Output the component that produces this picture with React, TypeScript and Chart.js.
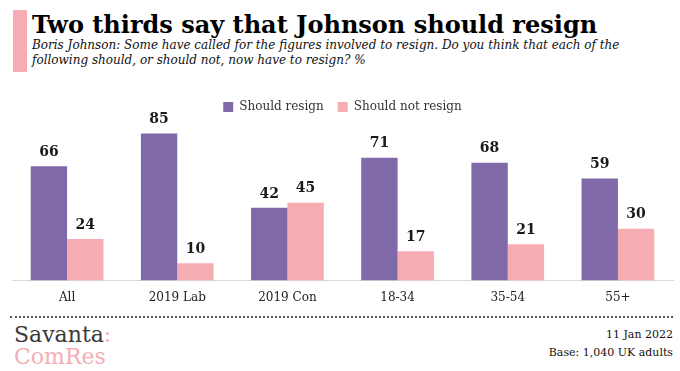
import React, { useEffect, useRef } from "react";
import { Chart, registerables } from "chart.js";

Chart.register(...registerables);

const categories = ["All", "2019 Lab", "2019 Con", "18-34", "35-54", "55+"];
const shouldResign = [66, 85, 42, 71, 68, 59];
const shouldNotResign = [24, 10, 45, 17, 21, 30];
const seriesNames = ["Should resign", "Should not resign"];

const PURPLE = "#7f69a8";
const PINK = "#f5adb3";
const SERIF = "'DejaVu Serif', serif";

const valueLabels = {
  id: "valueLabels",
  afterDatasetsDraw(chart: any) {
    const ctx = chart.ctx;
    ctx.save();
    ctx.font = "bold 14px 'DejaVu Serif', serif";
    ctx.fillStyle = "#1a1a1a";
    ctx.textAlign = "center";
    ctx.textBaseline = "bottom";
    chart.data.datasets.forEach((ds: any, i: number) => {
      const meta = chart.getDatasetMeta(i);
      meta.data.forEach((bar: any, j: number) => {
        ctx.fillText(String(ds.data[j]), bar.x, bar.y - 7);
      });
    });
    ctx.restore();
  },
};

export default function App() {
  const ref = useRef<HTMLCanvasElement>(null);
  useEffect(() => {
    document.body.style.margin = "0";
    const chart = new Chart(ref.current!, {
      type: "bar",
      data: {
        labels: categories,
        datasets: [
          { label: seriesNames[0], data: shouldResign, backgroundColor: PURPLE, borderWidth: 0 },
          { label: seriesNames[1], data: shouldNotResign, backgroundColor: PINK, borderWidth: 0 },
        ],
      },
      options: {
        animation: false,
        responsive: false,
        maintainAspectRatio: false,
        datasets: {
          bar: { categoryPercentage: 0.66, barPercentage: 1.0 },
        },
        layout: { padding: { left: 12, right: 7, top: 0, bottom: 0 } },
        plugins: {
          legend: {
            display: true,
            position: "top",
            labels: {
              boxWidth: 10,
              boxHeight: 10,
              color: "#333",
              font: { family: SERIF, size: 12 },
              padding: 14,
            },
          },
          tooltip: { enabled: false },
        },
        scales: {
          x: {
            grid: { display: false },
            border: { display: true, color: "#d9d9d9", width: 1 },
            ticks: { color: "#222", font: { family: SERIF, size: 12 }, padding: 2 },
          },
          y: {
            display: false,
            min: 0,
            max: 91,
          },
        },
      } as any,
      plugins: [valueLabels],
    });
    return () => chart.destroy();
  }, []);

  return (
    <div style={{ position: "relative", width: 680, height: 371, background: "#fff", overflow: "hidden", fontFamily: SERIF }}>
      <div style={{ position: "absolute", left: 13, top: 10, width: 14, height: 62, background: PINK }} />
      <div style={{ position: "absolute", left: 32, top: 10, fontFamily: SERIF, fontWeight: "bold", fontSize: 24, color: "#000", whiteSpace: "nowrap" }}>
        Two thirds say that Johnson should resign
      </div>
      <div style={{ position: "absolute", left: 32, top: 38, width: 640, fontFamily: SERIF, fontStyle: "italic", fontSize: 12, lineHeight: "15px", color: "#111" }}>
        Boris Johnson: Some have called for the figures involved to resign. Do you think that each of the following should, or should not, now have to resign? %
      </div>
      <canvas ref={ref} width={680} height={220} style={{ position: "absolute", left: 0, top: 87, width: 680, height: 220 }} />
      <div style={{ position: "absolute", left: 10, top: 316, width: 663, borderTop: "2px dotted #555" }} />
      <div style={{ position: "absolute", left: 14, top: 324, fontFamily: SERIF, fontSize: 22, lineHeight: "22px", color: "#3a3a3a" }}>
        Savanta<span style={{ color: PINK }}>:</span>
      </div>
      <div style={{ position: "absolute", left: 14, top: 346, fontFamily: SERIF, fontSize: 22, lineHeight: "22px", color: PINK }}>
        ComRes
      </div>
      <div style={{ position: "absolute", right: 7, top: 326, textAlign: "right", fontFamily: SERIF, fontSize: 11, lineHeight: "18px", color: "#111" }}>
        <div>11 Jan 2022</div>
        <div>Base: 1,040 UK adults</div>
      </div>
    </div>
  );
}
